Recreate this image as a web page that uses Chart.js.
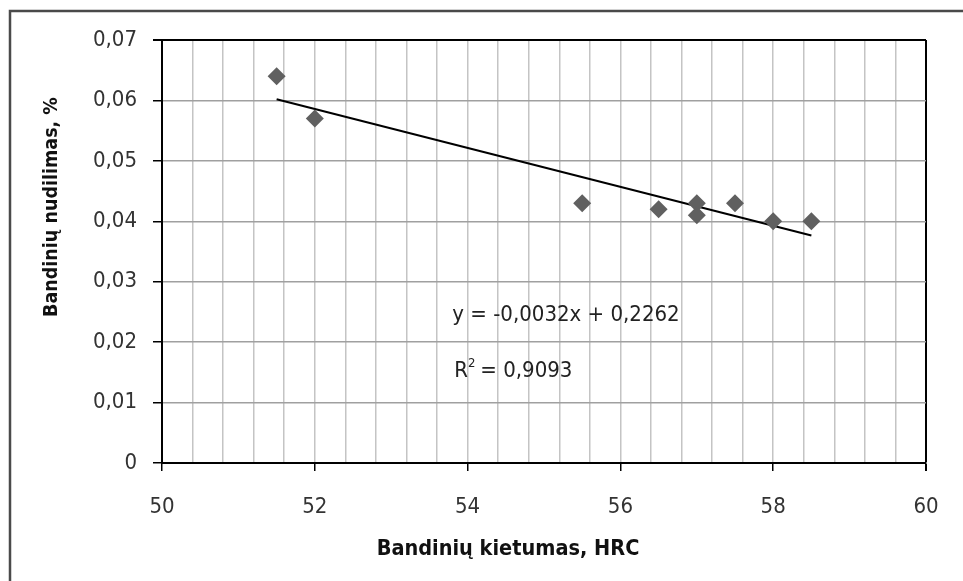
<!DOCTYPE html>
<html>
<head>
<meta charset="utf-8">
<script src="https://cdn.jsdelivr.net/npm/chart.js@4.4.1/dist/chart.umd.min.js"></script>
<style>
  html, body { margin: 0; padding: 0; background: #fff; }
  #wrap { position: relative; width: 963px; height: 581px; }
</style>
</head>
<body>
<div id="wrap"><canvas id="wearChart" width="963" height="581"></canvas></div>
<script>
// duomenys
const hardness = [51.5, 52, 55.5, 56.5, 57, 57, 57.5, 58, 58.5];
const wear = [0.064, 0.057, 0.043, 0.042, 0.043, 0.041, 0.043, 0.040, 0.040];
const xTitle = 'Bandinių kietumas, HRC';
const yTitle = 'Bandinių nudilimas, %';
const eqText = 'y = -0,0032x + 0,2262';
const r2Text = '0,9093';

const FONT = "'DejaVu Sans Condensed', 'DejaVu Sans', sans-serif";

// tiesinė regresija
const n = hardness.length;
const mx = hardness.reduce((a, b) => a + b, 0) / n;
const my = wear.reduce((a, b) => a + b, 0) / n;
let sxy = 0, sxx = 0;
hardness.forEach((x, i) => { sxy += (x - mx) * (wear[i] - my); sxx += (x - mx) ** 2; });
const slope = sxy / sxx;
const icpt = my - slope * mx;
const xMin = Math.min(...hardness), xMax = Math.max(...hardness);
const trend = [
  { x: xMin, y: slope * xMin + icpt },
  { x: xMax, y: slope * xMax + icpt }
];

const isMajorX = v => Math.abs(v / 2 - Math.round(v / 2)) < 1e-6;

const framePlugin = {
  id: 'frame',
  afterDraw(chart) {
    const { ctx, scales } = chart;
    ctx.save();
    // išorinis rėmelis
    ctx.strokeStyle = '#4a4a4a';
    ctx.lineWidth = 2.5;
    ctx.strokeRect(10, 11, 1200, 1200);

    ctx.fillStyle = '#111';
    ctx.font = 'bold 21.5px ' + FONT;
    ctx.textAlign = 'center';
    ctx.textBaseline = 'middle';
    ctx.fillText(xTitle, 508, 549);

    ctx.save();
    ctx.translate(52, 207);
    ctx.rotate(-Math.PI / 2);
    ctx.font = 'bold 19.5px ' + FONT;
    ctx.fillText(yTitle, 0, 0);
    ctx.restore();

    // lygtis
    ctx.fillStyle = '#222';
    ctx.font = '22px ' + FONT;
    ctx.textAlign = 'left';
    const ex = scales.x.getPixelForValue(53.8);
    ctx.fillText(eqText, ex, scales.y.getPixelForValue(0.0245));
    const ry = scales.y.getPixelForValue(0.0151);
    ctx.fillText('R', ex + 2, ry);
    const rw = ctx.measureText('R').width;
    ctx.font = '13px ' + FONT;
    ctx.fillText('2', ex + 2 + rw, ry - 8);
    ctx.font = '22px ' + FONT;
    ctx.fillText(' = ' + r2Text, ex + 2 + rw + 6, ry);
    ctx.restore();
  }
};

new Chart(document.getElementById('wearChart').getContext('2d'), {
  type: 'scatter',
  data: {
    datasets: [
      {
        data: hardness.map((x, i) => ({ x, y: wear[i] })),
        pointStyle: 'rectRot',
        pointRadius: 9,
        pointHoverRadius: 9,
        backgroundColor: '#606060',
        borderColor: '#606060',
        borderWidth: 0,
        order: 1
      },
      {
        data: trend,
        showLine: true,
        borderColor: '#000',
        borderWidth: 2,
        pointRadius: 0,
        order: 2
      }
    ]
  },
  options: {
    responsive: false,
    animation: false,
    layout: { padding: { left: 0, top: 40, right: 37, bottom: 0 } },
    plugins: { legend: { display: false }, tooltip: { enabled: false } },
    scales: {
      x: {
        min: 50,
        max: 60,
        afterFit: s => { s.height = 118; },
        border: { color: '#000', width: 2 },
        grid: {
          color: c => (Math.abs(c.tick.value - 60) < 1e-6 ? '#000' : '#c4c4c4'),
          lineWidth: c => (Math.abs(c.tick.value - 60) < 1e-6 ? 2 : 1.5),
          tickColor: c => (isMajorX(c.tick.value) ? '#000' : 'rgba(0,0,0,0)'),
          tickLength: 8
        },
        ticks: {
          stepSize: 0.4,
          autoSkip: false,
          maxRotation: 0,
          padding: 23,
          color: '#333',
          font: { family: FONT, size: 22 },
          callback: v => (isMajorX(v) ? String(Math.round(v)) : '')
        }
      },
      y: {
        min: 0,
        max: 0.07,
        afterFit: s => { s.width = 162; },
        border: { color: '#000', width: 2 },
        grid: {
          color: c => (Math.abs(c.tick.value - 0.07) < 1e-9 ? '#000' : '#a0a0a0'),
          lineWidth: c => (Math.abs(c.tick.value - 0.07) < 1e-9 ? 2 : 1.5),
          tickColor: '#000',
          tickLength: 9
        },
        ticks: {
          stepSize: 0.01,
          padding: 16,
          color: '#333',
          font: { family: FONT, size: 22 },
          callback: v => (Math.abs(v) < 1e-9 ? '0' : v.toFixed(2).replace('.', ','))
        }
      }
    }
  },
  plugins: [framePlugin]
});
</script>
</body>
</html>
